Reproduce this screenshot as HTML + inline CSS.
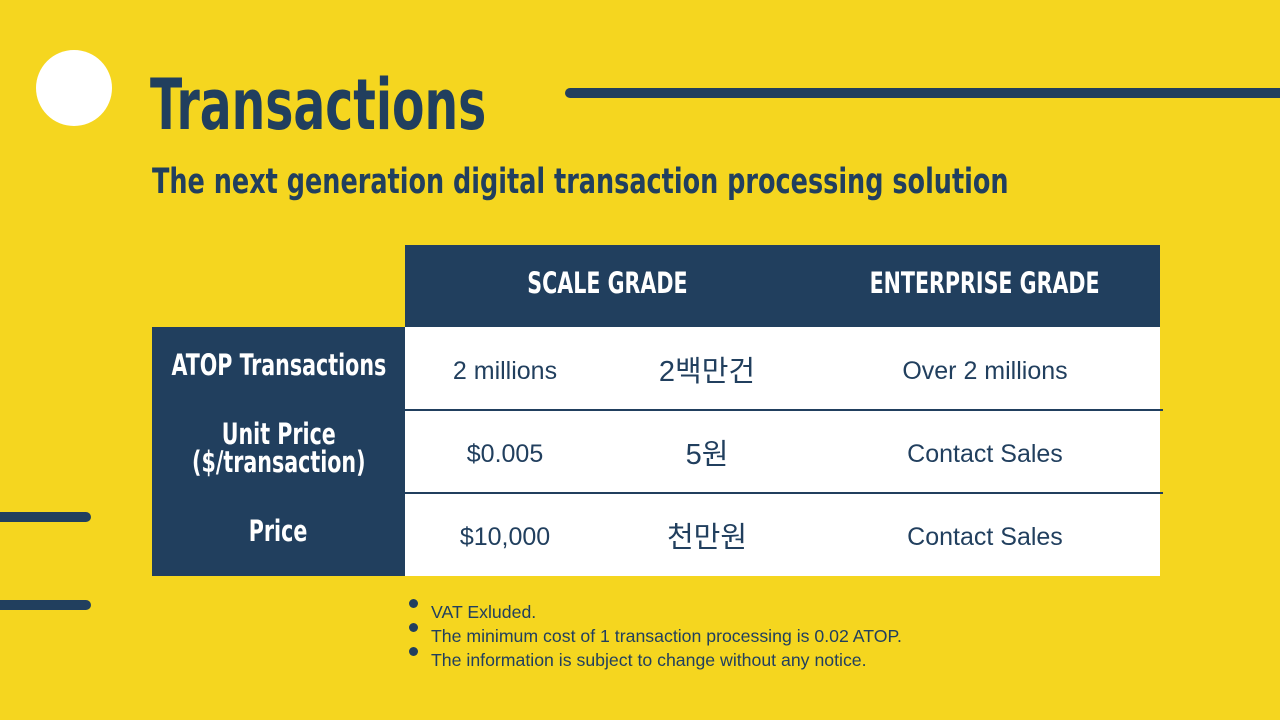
<!DOCTYPE html>
<html><head><meta charset="utf-8"><style>
body{margin:0;width:1280px;height:720px;background:#F5D61F;position:relative;overflow:hidden;font-family:"Liberation Sans","Noto Sans CJK KR",sans-serif;}
.abs{position:absolute;}
.cond{font-family:"DejaVu Sans Condensed","Liberation Sans",sans-serif;font-weight:bold;white-space:nowrap;}
.sq{display:inline-block;transform:scaleX(0.79);transform-origin:center;}
.navy{background:#213F5E;}
.cell{position:absolute;display:flex;align-items:center;justify-content:center;text-align:center;white-space:nowrap;}
.val{font-size:25px;color:#213F5E;}
.kr{font-size:29px;}
.lab{color:#fff;font-size:29px;line-height:28px;}
.bul{position:absolute;left:409px;width:9px;height:9px;border-radius:50%;background:#213F5E;}
.note{position:absolute;left:431px;font-size:17.7px;color:#213F5E;}
</style></head><body>
<div class="abs" style="left:36px;top:50px;width:76px;height:76px;border-radius:50%;background:#fff"></div>
<div class="abs navy" style="left:565px;top:88px;width:730px;height:10px;border-radius:5px"></div>
<div class="abs cond" style="left:150px;top:64px;font-size:70px;color:#213F5E;transform:scaleX(0.75);transform-origin:left;">Transactions</div>
<div class="abs cond" style="left:152px;top:162px;font-size:35px;color:#213F5E;transform:scaleX(0.81);transform-origin:left;">The next generation digital transaction processing solution</div>

<div class="abs navy" style="left:405px;top:245px;width:755px;height:82px"></div>
<div class="cell cond lab" style="left:405px;top:245px;width:404px;height:76px"><span class="sq">SCALE GRADE</span></div>
<div class="cell cond lab" style="left:810px;top:245px;width:350px;height:76px"><span class="sq">ENTERPRISE GRADE</span></div>

<div class="abs navy" style="left:152px;top:327px;width:253px;height:249px"></div>
<div class="cell cond lab" style="left:152px;top:327px;width:253px;height:76px"><span class="sq">ATOP Transactions</span></div>
<div class="cell cond lab" style="left:152px;top:410px;width:253px;height:76px"><span class="sq">Unit Price<br>($/transaction)</span></div>
<div class="cell cond lab" style="left:152px;top:493px;width:253px;height:76px"><span class="sq">Price</span></div>

<div class="abs" style="left:405px;top:327px;width:755px;height:249px;background:#fff"></div>
<div class="abs navy" style="left:405px;top:409px;width:758px;height:2px"></div>
<div class="abs navy" style="left:405px;top:492px;width:758px;height:2px"></div>

<div class="cell val" style="left:405px;top:330px;width:200px;height:83px">2 millions</div>
<div class="cell val kr" style="left:607px;top:327px;width:200px;height:83px">2백만건</div>
<div class="cell val" style="left:810px;top:330px;width:350px;height:83px">Over 2 millions</div>
<div class="cell val" style="left:405px;top:413px;width:200px;height:83px">$0.005</div>
<div class="cell val kr" style="left:607px;top:410px;width:200px;height:83px">5원</div>
<div class="cell val" style="left:810px;top:413px;width:350px;height:83px">Contact Sales</div>
<div class="cell val" style="left:405px;top:496px;width:200px;height:83px">$10,000</div>
<div class="cell val kr" style="left:607px;top:493px;width:200px;height:83px">천만원</div>
<div class="cell val" style="left:810px;top:496px;width:350px;height:83px">Contact Sales</div>

<div class="abs navy" style="left:-10px;top:512px;width:101px;height:10px;border-radius:5px"></div>
<div class="abs navy" style="left:-10px;top:600px;width:101px;height:10px;border-radius:5px"></div>

<div class="bul" style="top:599px"></div>
<div class="note" style="top:602px">VAT Exluded.</div>
<div class="bul" style="top:623px"></div>
<div class="note" style="top:626px">The minimum cost of 1 transaction processing is 0.02 ATOP.</div>
<div class="bul" style="top:647px"></div>
<div class="note" style="top:650px">The information is subject to change without any notice.</div>
</body></html>
